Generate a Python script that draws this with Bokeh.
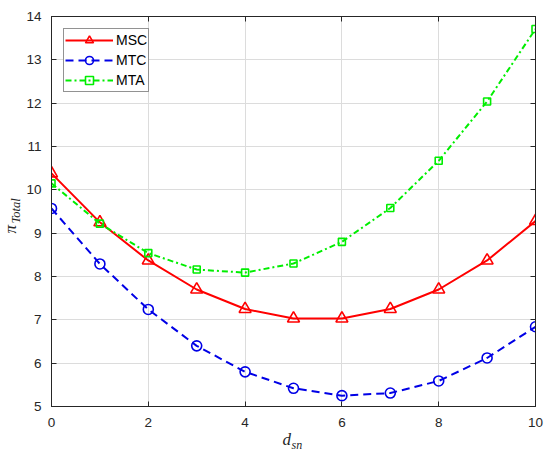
import math
from bokeh.plotting import figure
from bokeh.models import LinearAxis, Label, Range1d, FixedTicker, Legend
from bokeh.embed import file_html
from bokeh.resources import INLINE

d_sn = [0, 1, 2, 3, 4, 5, 6, 7, 8, 9, 10]
msc = [10.38, 9.25, 8.37, 7.70, 7.25, 7.03, 7.03, 7.25, 7.70, 8.37, 9.28]
mtc = [9.57, 8.29, 7.24, 6.40, 5.80, 5.42, 5.25, 5.31, 5.59, 6.12, 6.84]
mta = [10.15, 9.22, 8.54, 8.16, 8.09, 8.30, 8.80, 9.58, 10.67, 12.04, 13.71]
x_ticks = [0, 2, 4, 6, 8, 10]
y_ticks = [5, 6, 7, 8, 9, 10, 11, 12, 13, 14]

FONT = "Liberation Sans"
AX = "#262626"

p = figure(width=550, height=457, output_backend="svg", toolbar_location=None,
           x_range=Range1d(0, 10), y_range=Range1d(5, 14),
           min_border_left=51, min_border_right=15, min_border_top=16, min_border_bottom=51)
p.background_fill_color = "white"
p.border_fill_color = "white"
p.outline_line_color = AX
p.outline_line_width = 1

for ax in (p.xaxis[0], p.yaxis[0]):
    ax.major_label_text_font = FONT
    ax.major_label_text_font_size = "13.5px"
    ax.major_label_text_color = AX
    ax.axis_line_color = AX
    ax.major_tick_line_color = AX
    ax.major_tick_in = 5
    ax.major_tick_out = 0
    ax.minor_tick_line_color = None
p.xaxis[0].major_label_standoff = 11
p.yaxis[0].major_label_standoff = 10
p.xaxis[0].ticker = FixedTicker(ticks=x_ticks)
p.yaxis[0].ticker = FixedTicker(ticks=y_ticks)

for loc, ticks in (("right", y_ticks), ("above", x_ticks)):
    ax = LinearAxis(ticker=FixedTicker(ticks=ticks))
    ax.major_label_text_font_size = "0px"
    ax.major_label_standoff = 0
    ax.axis_line_color = AX
    ax.major_tick_line_color = AX
    ax.major_tick_in = 5
    ax.major_tick_out = 0
    ax.minor_tick_line_color = None
    p.add_layout(ax, loc)

p.xgrid.ticker = FixedTicker(ticks=x_ticks)
p.ygrid.ticker = FixedTicker(ticks=y_ticks)
p.grid.grid_line_color = "#dcdcdc"
p.grid.grid_line_width = 1

red = "#ff0000"
blue = "#0000e6"
green = "#00ee00"

r1 = p.line(d_sn, msc, line_color=red, line_width=2)
m1 = p.scatter(d_sn, msc, marker="triangle", size=12, line_color=red, line_width=1.6, fill_color=None)
r2 = p.line(d_sn, mtc, line_color=blue, line_width=2, line_dash="8 5")
m2 = p.scatter(d_sn, mtc, marker="circle", size=10, line_color=blue, line_width=1.6, fill_color=None)
r3 = p.line(d_sn, mta, line_color=green, line_width=2, line_dash="6 3 2 3")
m3 = p.scatter(d_sn, mta, marker="square", size=7, line_color=green, line_width=1.6, fill_color=None)

legend = Legend(items=[("MSC", [r1, m1]), ("MTC", [r2, m2]), ("MTA", [r3, m3])],
                location="top_left")
legend.margin = 12
legend.padding = 1
legend.spacing = 0
legend.label_text_font = FONT
legend.label_text_font_size = "14px"
legend.label_text_color = "#000000"
legend.label_standoff = 3
legend.glyph_width = 48
legend.glyph_height = 20
legend.label_height = 20
legend.border_line_color = AX
legend.border_line_width = 1
legend.background_fill_color = "white"
legend.background_fill_alpha = 1
p.add_layout(legend)

# axis labels (math-style italic), canvas coordinates (y from top);
# spread over the side panels so that none of them needs extra room
p.add_layout(Label(x=282, y=448, x_units="canvas", y_units="canvas", text="d",
                   text_font="Liberation Serif", text_font_style="italic",
                   text_font_size="17px", text_color=AX), "below")
p.add_layout(Label(x=291, y=451, x_units="canvas", y_units="canvas", text="sn",
                   text_font="Liberation Serif", text_font_style="italic",
                   text_font_size="12px", text_color=AX), "above")
p.add_layout(Label(x=19, y=233, x_units="canvas", y_units="canvas", text="π",
                   text_font="Liberation Serif", text_font_style="italic",
                   text_font_size="17px", text_color=AX, angle=math.pi / 2), "left")
p.add_layout(Label(x=22, y=223, x_units="canvas", y_units="canvas", text="Total",
                   text_font="Liberation Serif", text_font_style="italic",
                   text_font_size="12.5px", text_color=AX, angle=math.pi / 2), "right")

open("out.html", "w").write(file_html(p, INLINE))
